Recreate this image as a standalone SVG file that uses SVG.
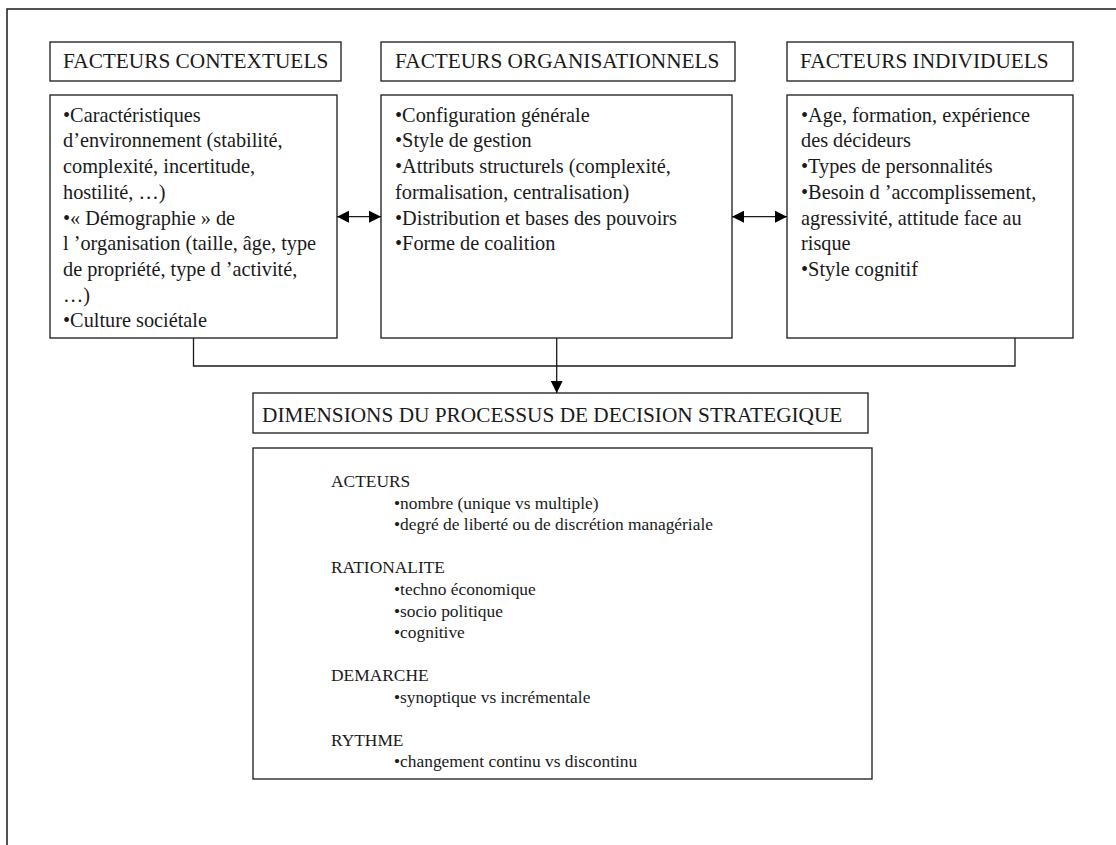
<svg xmlns="http://www.w3.org/2000/svg" width="1116" height="845" viewBox="0 0 1116 845">
<style>
.box{fill:#fff;stroke:#1a1a1a;stroke-width:1.3}
.frame{fill:none;stroke:#1a1a1a;stroke-width:1.5}
.hd{font-family:"Liberation Serif",serif;font-size:21.3px;fill:#1a1a1a}
.tx{font-family:"Liberation Serif",serif;font-size:20.3px;fill:#1a1a1a}
.sm{font-family:"Liberation Serif",serif;font-size:17.4px;fill:#1a1a1a}
.ln{fill:none;stroke:#1a1a1a;stroke-width:1.3}
</style>
<defs>
<marker id="ah" markerUnits="userSpaceOnUse" markerWidth="12" markerHeight="12" viewBox="0 0 11 11" refX="11" refY="5.5" orient="auto-start-reverse">
<path d="M0,0 L11,5.5 L0,11 z" fill="#000"/>
</marker>
</defs>
<rect width="1116" height="845" fill="#fff"/>
<path class="frame" d="M7,845 V9 H1116"/>

<g id="hdr-contextuels">
<rect class="box" x="50" y="42" width="291" height="39"/>
<text class="hd" x="63" y="68">FACTEURS CONTEXTUELS</text>
</g>
<g id="hdr-organisationnels">
<rect class="box" x="381" y="42" width="354" height="39"/>
<text class="hd" x="395" y="68">FACTEURS ORGANISATIONNELS</text>
</g>
<g id="hdr-individuels">
<rect class="box" x="787" y="42" width="286" height="39"/>
<text class="hd" x="800" y="68">FACTEURS INDIVIDUELS</text>
</g>

<g id="box-contextuels">
<rect class="box" x="50" y="95" width="287" height="243"/>
<text class="tx" x="63" y="121.7">•Caractéristiques</text>
<text class="tx" x="63" y="147.4">d’environnement (stabilité,</text>
<text class="tx" x="63" y="173.1">complexité, incertitude,</text>
<text class="tx" x="63" y="198.8">hostilité, …)</text>
<text class="tx" x="63" y="224.5">•« Démographie » de</text>
<text class="tx" x="63" y="250.2">l ’organisation (taille, âge, type</text>
<text class="tx" x="63" y="275.9">de propriété, type d ’activité,</text>
<text class="tx" x="63" y="301.6">…)</text>
<text class="tx" x="63" y="327.3">•Culture sociétale</text>
</g>

<g id="box-organisationnels">
<rect class="box" x="381" y="95" width="351" height="243"/>
<text class="tx" x="395" y="121.7">•Configuration générale</text>
<text class="tx" x="395" y="147.4">•Style de gestion</text>
<text class="tx" x="395" y="173.1">•Attributs structurels (complexité,</text>
<text class="tx" x="395" y="198.8">formalisation, centralisation)</text>
<text class="tx" x="395" y="224.5">•Distribution et bases des pouvoirs</text>
<text class="tx" x="395" y="250.2">•Forme de coalition</text>
</g>

<g id="box-individuels">
<rect class="box" x="787" y="95" width="286" height="243"/>
<text class="tx" x="801" y="121.7">•Age, formation, expérience</text>
<text class="tx" x="801" y="147.4">des décideurs</text>
<text class="tx" x="801" y="173.1">•Types de personnalités</text>
<text class="tx" x="801" y="198.8">•Besoin d ’accomplissement,</text>
<text class="tx" x="801" y="224.5">agressivité, attitude face au</text>
<text class="tx" x="801" y="250.2">risque</text>
<text class="tx" x="801" y="275.9">•Style cognitif</text>
</g>

<g id="hdr-dimensions">
<rect class="box" x="253" y="393" width="615" height="40"/>
<text class="hd" x="262" y="421.7" font-size="22.4">DIMENSIONS DU PROCESSUS DE DECISION STRATEGIQUE</text>
</g>

<g id="box-dimensions">
<rect class="box" x="253" y="448" width="619" height="331"/>
<text class="sm" x="331" y="487">ACTEURS</text>
<text class="sm" x="394" y="508.6">•nombre (unique vs multiple)</text>
<text class="sm" x="394" y="530.2">•degré de liberté ou de discrétion managériale</text>
<text class="sm" x="331" y="573.4">RATIONALITE</text>
<text class="sm" x="394" y="595">•techno économique</text>
<text class="sm" x="394" y="616.6">•socio politique</text>
<text class="sm" x="394" y="638.2">•cognitive</text>
<text class="sm" x="331" y="681.4">DEMARCHE</text>
<text class="sm" x="394" y="703">•synoptique vs incrémentale</text>
<text class="sm" x="331" y="746.2">RYTHME</text>
<text class="sm" x="394" y="767.4">•changement continu vs discontinu</text>
</g>

<g id="connectors">
<path class="ln" d="M193.5,338 V366 H1015 V338"/>
<path class="ln" d="M556.7,338 V393" marker-end="url(#ah)"/>
<path class="ln" d="M337,216.7 H381" marker-start="url(#ah)" marker-end="url(#ah)"/>
<path class="ln" d="M732,216.7 H787" marker-start="url(#ah)" marker-end="url(#ah)"/>
</g>
</svg>
